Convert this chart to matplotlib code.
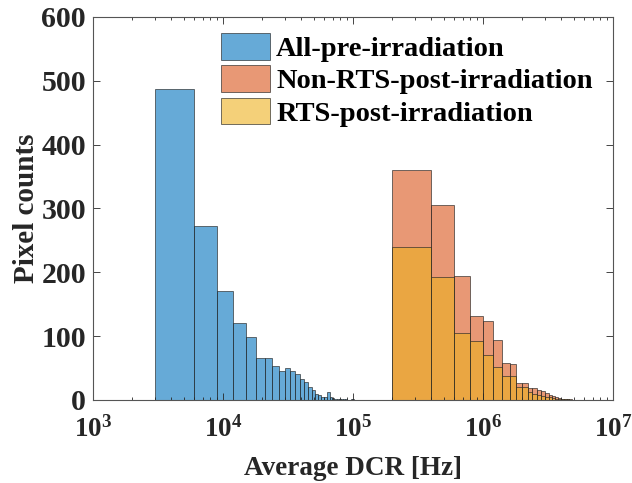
import numpy as np
import matplotlib
matplotlib.use('Agg')
import matplotlib.pyplot as plt
from matplotlib.ticker import FuncFormatter, LogLocator, NullFormatter

# Histogram counts (linear-width bins on a log axis)
pre_bin_start = 3e3
pre_bin_width = 3e3
pre_counts = [487, 272, 171, 120, 98, 66, 65, 53, 46, 50, 45, 40, 33, 28, 20,
              15, 10, 7, 5, 4, 13, 4, 3, 2, 2, 1, 1, 1, 1, 0, 0, 1, 1]

post_bin_start = 2e5
post_bin_width = 2e5
nonrts_counts = [360, 305, 194, 131, 124, 94, 58, 57, 27, 26, 19, 18, 15, 14,
                 11, 8, 6, 4, 3, 2, 2, 1, 1]
rts_counts = [240, 193, 105, 92, 71, 52, 38, 38, 21, 20, 12, 10, 8, 6, 5, 4,
              3, 2, 2, 1, 1, 1, 0]

labels = ['All-pre-irradiation', 'Non-RTS-post-irradiation', 'RTS-post-irradiation']
colors = [(0.0, 0.447, 0.741), (0.85, 0.325, 0.098), (0.929, 0.694, 0.125)]

plt.rcParams['font.family'] = ['Liberation Serif', 'DejaVu Serif']
plt.rcParams['font.weight'] = 'bold'
plt.rcParams['mathtext.fontset'] = 'custom'
plt.rcParams['mathtext.rm'] = 'Liberation Serif:bold'
plt.rcParams['mathtext.bf'] = 'Liberation Serif:bold'
plt.rcParams['mathtext.it'] = 'Liberation Serif:bold'

fig = plt.figure(figsize=(6.32, 4.83), dpi=100)
ax = fig.add_axes([0.147, 0.172, 0.823, 0.793])


def draw_hist(start, width, counts, color, label):
    edges = start + width * np.arange(len(counts) + 1)
    ax.bar(edges[:-1], counts, width=np.diff(edges), align='edge',
           facecolor=color + (0.6,), edgecolor=(0.15, 0.15, 0.15, 0.75),
           linewidth=0.6, label=label)


draw_hist(pre_bin_start, pre_bin_width, pre_counts, colors[0], labels[0])
draw_hist(post_bin_start, post_bin_width, nonrts_counts, colors[1], labels[1])
draw_hist(post_bin_start, post_bin_width, rts_counts, colors[2], labels[2])

ax.set_xscale('log')
ax.set_xlim(1e3, 1e7)
ax.set_ylim(0, 600)
ax.set_yticks(np.arange(0, 601, 100))
ax.xaxis.set_major_locator(LogLocator(base=10, numticks=10))
ax.xaxis.set_minor_locator(LogLocator(base=10, subs=np.arange(2, 10), numticks=20))
ax.xaxis.set_minor_formatter(NullFormatter())
ax.xaxis.set_major_formatter(FuncFormatter(lambda v, p: r'$10^{%d}$' % round(np.log10(v))))

ax.tick_params(which='both', direction='in', top=True, right=True,
               colors='#262626', labelcolor='#262626', width=0.6)
ax.tick_params(which='major', length=5)
ax.tick_params(which='minor', length=2.5)
ax.tick_params(axis='x', pad=12, labelsize=19.5)
ax.tick_params(axis='y', pad=5, labelsize=21.5)
for sp in ax.spines.values():
    sp.set_color('#555555')
    sp.set_linewidth(0.8)

ax.set_xlabel('Average DCR [Hz]', fontsize=19.5, fontweight='bold', color='#262626', labelpad=9)
ax.set_ylabel('Pixel counts', fontsize=21, fontweight='bold', color='#262626', labelpad=1)

ax.legend(loc='upper left', bbox_to_anchor=(0.24, 0.965), frameon=False,
          fontsize=20.5, handlelength=1.75, handleheight=1.05, handletextpad=0.2,
          labelspacing=0.12, borderpad=0.1, borderaxespad=0)

fig.savefig('out.png', dpi=100, facecolor='white')
